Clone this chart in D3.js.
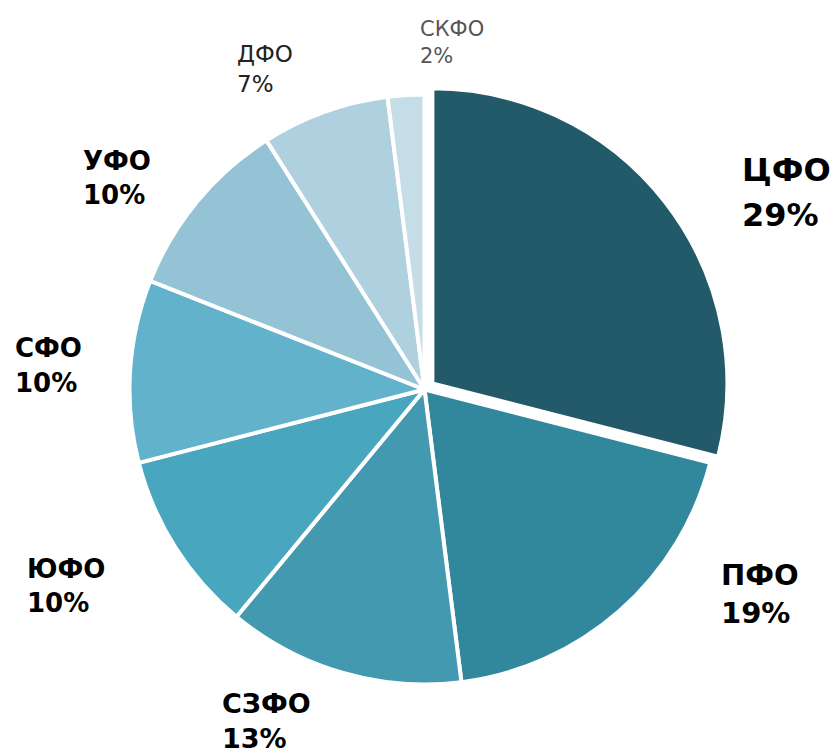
<!DOCTYPE html>
<html>
<head>
<meta charset="utf-8">
<script src="https://cdn.jsdelivr.net/npm/d3@7"></script>
<style>
  body { margin: 0; background: #fff; }
  text { font-family: "DejaVu Sans", sans-serif; }
</style>
</head>
<body>
<script>
// district shares, %
var districts = ["ЦФО", "ПФО", "СЗФО", "ЮФО", "СФО", "УФО", "ДФО", "СКФО"];
var shares = [29, 19, 13, 10, 10, 10, 7, 2];
var colors = ["#235a69", "#31879c", "#4399b0", "#48a7bf", "#63b2cb", "#93c3d5", "#afd1df", "#c5dde6"];

var width = 837,
    height = 754,
    cx = 424.5,
    cy = 389.5,
    radius = 295;

// label block: left x, first baseline, line gap, font size, weight, colour
var labelLayout = [
    [742, 181, 45, 32, "bold", "#000"],
    [721, 585, 38, 29, "bold", "#000"],
    [222, 713, 35, 27, "bold", "#000"],
    [27, 578, 34, 26, "bold", "#000"],
    [15, 357, 35, 26, "bold", "#000"],
    [83, 170, 34, 26, "bold", "#000"],
    [237, 62, 30, 23, "normal", "#222"],
    [420, 36, 27, 21, "normal", "#555"]
];

var svg = d3.select("body")
    .append("svg")
    .attr("width", width)
    .attr("height", height);

var pie = d3.pie()
    .sort(null)
    .value(function(d){ return d; });

var arc = d3.arc()
    .innerRadius(0)
    .outerRadius(radius);

var arcs = pie(shares);

var g = svg.append("g")
    .attr("transform", "translate(" + cx + "," + cy + ")");

g.selectAll(".slice")
    .data(arcs)
    .enter()
    .append("path")
    .attr("class", "slice")
    .attr("d", arc)
    .attr("fill", function(d, i){ return colors[i]; })
    .attr("stroke", "#fff")
    .attr("stroke-width", 4)
    .attr("stroke-linejoin", "round")
    .attr("transform", function(d, i){
        if (i > 0) return null;
        // pull the first slice out a little
        var mid = (d.startAngle + d.endAngle) / 2;
        return "translate(" + (10 * Math.sin(mid)) + "," + (-10 * Math.cos(mid)) + ")";
    });

var labels = svg.selectAll(".label")
    .data(arcs)
    .enter()
    .append("text")
    .attr("class", "label")
    .attr("font-size", function(d, i){ return labelLayout[i][3]; })
    .attr("font-weight", function(d, i){ return labelLayout[i][4]; })
    .attr("fill", function(d, i){ return labelLayout[i][5]; });

labels.append("tspan")
    .attr("x", function(d, i){ return labelLayout[i][0]; })
    .attr("y", function(d, i){ return labelLayout[i][1]; })
    .text(function(d, i){ return districts[i]; });

labels.append("tspan")
    .attr("x", function(d, i){ return labelLayout[i][0]; })
    .attr("y", function(d, i){ return labelLayout[i][1] + labelLayout[i][2]; })
    .text(function(d){ return d.value + "%"; });
</script>
</body>
</html>
